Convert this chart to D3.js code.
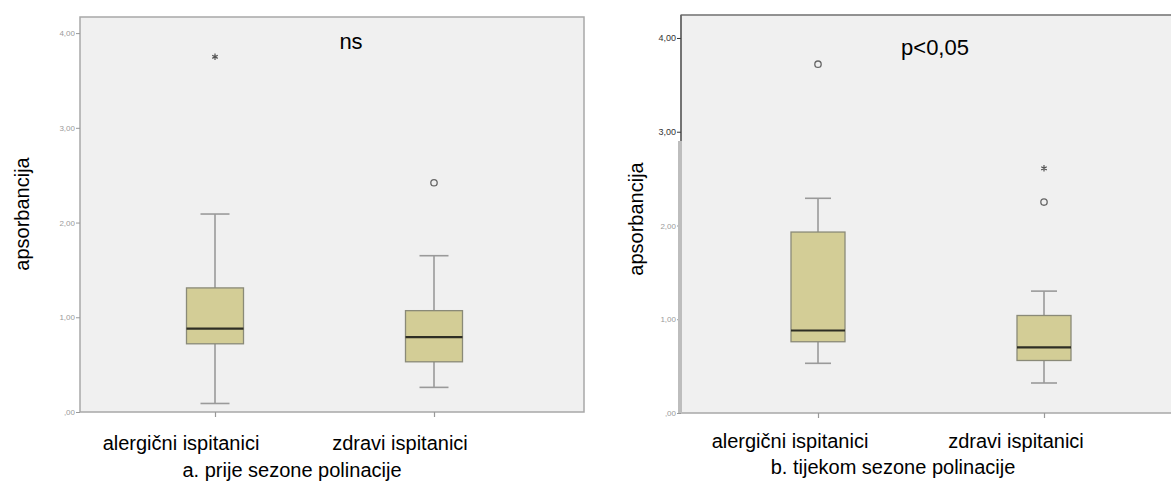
<!DOCTYPE html>
<html>
<head>
<meta charset="utf-8">
<script src="https://cdn.jsdelivr.net/npm/d3@7/dist/d3.min.js"></script>
<style>
  html, body { margin: 0; padding: 0; background: #ffffff; }
  svg { display: block; font-family: "Liberation Sans", Arial, sans-serif; }
</style>
</head>
<body>
<svg id="chart" width="1171" height="482"></svg>
<script>
// ---- data ----
const categories = ["alergični ispitanici", "zdravi ispitanici"];
const panelTitles = ["a. prije sezone polinacije", "b. tijekom sezone polinacije"];
const statLabels = ["ns", "p<0,05"];
const yTicks = [0, 1, 2, 3, 4];
const yTickLabels = [",00", "1,00", "2,00", "3,00", "4,00"];
const yAxisTitle = "apsorbancija";

// panel a: before pollen season
const aWhiskerLow  = [0.09, 0.26];
const aQ1          = [0.72, 0.53];
const aMedian      = [0.88, 0.79];
const aQ3          = [1.31, 1.07];
const aWhiskerHigh = [2.09, 1.65];
const aOutliers    = [[], [2.42]];
const aExtremes    = [[3.75], []];

// panel b: during pollen season
const bWhiskerLow  = [0.53, 0.32];
const bQ1          = [0.76, 0.56];
const bMedian      = [0.88, 0.70];
const bQ3          = [1.93, 1.04];
const bWhiskerHigh = [2.29, 1.30];
const bOutliers    = [[3.72], [2.25]];
const bExtremes    = [[], [2.61]];

function buildStats(lo, q1, med, q3, hi, outl, extr) {
  return categories.map((c, i) => ({
    cat: c, lo: lo[i], q1: q1[i], med: med[i], q3: q3[i], hi: hi[i],
    outliers: outl[i], extremes: extr[i]
  }));
}

const panels = [
  {
    title: panelTitles[0], stat: statLabels[0],
    stats: buildStats(aWhiskerLow, aQ1, aMedian, aQ3, aWhiskerHigh, aOutliers, aExtremes),
    frame: { x0: 80, x1: 584, y0: 17, y1: 412 },
    yMax: 4.17, xRange: [215, 434], boxW: 57, capW: 29,
    labelShift: -34, labelY: 450, titleX: 292, titleY: 477,
    statX: 351, statY: 49, yTitleX: 22, yTitleY: 214,
    tickLblX: 74, darkTicks: []
  },
  {
    title: panelTitles[1], stat: statLabels[1],
    stats: buildStats(bWhiskerLow, bQ1, bMedian, bQ3, bWhiskerHigh, bOutliers, bExtremes),
    frame: { x0: 681, x1: 1180, y0: 15, y1: 413 },
    yMax: 4.245, xRange: [818, 1044], boxW: 54, capW: 26,
    labelShift: -28, labelY: 448, titleX: 893, titleY: 474,
    statX: 935, statY: 55, yTitleX: 636, yTitleY: 219,
    tickLblX: 676, darkTicks: [3, 4]
  }
];

const svg = d3.select("#chart");

panels.forEach((p, pi) => {
  const g = svg.append("g");
  const f = p.frame;
  const y = d3.scaleLinear().domain([0, p.yMax]).range([f.y1, f.y0]);
  const x = d3.scalePoint().domain(categories).range(p.xRange);

  // plot area background
  g.append("rect")
    .attr("x", f.x0).attr("y", f.y0)
    .attr("width", f.x1 - f.x0).attr("height", f.y1 - f.y0)
    .attr("fill", "#f0f0f0")
    .attr("stroke", "#a8a8a8").attr("stroke-width", 1.5);

  // y axis
  const yAxis = d3.axisLeft(y).tickValues(yTicks)
    .tickFormat((d, i) => yTickLabels[i]).tickSize(4).tickPadding(1);
  const ya = g.append("g").attr("transform", `translate(${f.x0},0)`).call(yAxis);
  ya.select(".domain").remove();
  ya.selectAll(".tick line").attr("stroke", d => p.darkTicks.includes(d) ? "#333" : "#999");
  ya.selectAll(".tick text")
    .attr("font-family", "Liberation Sans, Arial, sans-serif")
    .attr("font-size", d => p.darkTicks.includes(d) ? 9 : 8)
    .attr("fill", d => p.darkTicks.includes(d) ? "#333" : "#9a9a9a");

  if (pi === 1) {
    // composite look of the right panel's y axis: dark upper part, thick grey lower part
    g.append("line").attr("x1", f.x0).attr("x2", f.x0)
      .attr("y1", f.y0).attr("y2", y(2.9)).attr("stroke", "#444").attr("stroke-width", 1.2);
    g.append("line").attr("x1", f.x0 - 1).attr("x2", f.x0 - 1)
      .attr("y1", y(2.9)).attr("y2", f.y1).attr("stroke", "#bdbdbd").attr("stroke-width", 4);
    g.append("line").attr("x1", f.x0).attr("x2", f.x1)
      .attr("y1", f.y0).attr("y2", f.y0).attr("stroke", "#666").attr("stroke-width", 1);
  }

  // x axis ticks
  const xAxis = d3.axisBottom(x).tickSize(5).tickFormat("");
  const xa = g.append("g").attr("transform", `translate(0,${f.y1})`).call(xAxis);
  xa.select(".domain").remove();
  xa.selectAll(".tick line").attr("stroke", "#999").attr("stroke-width", 1.2);

  // category labels
  g.selectAll(".catlbl").data(categories).enter().append("text")
    .attr("x", d => x(d) + p.labelShift).attr("y", p.labelY)
    .attr("text-anchor", "middle").attr("font-size", 20).attr("fill", "#000")
    .text(d => d);

  // panel title
  g.append("text").attr("x", p.titleX).attr("y", p.titleY)
    .attr("text-anchor", "middle").attr("font-size", 20).attr("fill", "#000")
    .text(p.title);

  // stat label
  g.append("text").attr("x", p.statX).attr("y", p.statY)
    .attr("text-anchor", "middle").attr("font-size", 22).attr("fill", "#000")
    .text(p.stat);

  // y axis title
  g.append("text")
    .attr("transform", `translate(${p.yTitleX},${p.yTitleY}) rotate(-90)`)
    .attr("text-anchor", "middle").attr("dominant-baseline", "central")
    .attr("font-size", 20).attr("fill", "#000")
    .text(yAxisTitle);

  // boxes
  const bx = g.selectAll(".box").data(p.stats).enter().append("g");
  // whiskers
  bx.append("line").attr("x1", d => x(d.cat)).attr("x2", d => x(d.cat))
    .attr("y1", d => y(d.hi)).attr("y2", d => y(d.q3))
    .attr("stroke", "#9a9a9a").attr("stroke-width", 1.6);
  bx.append("line").attr("x1", d => x(d.cat)).attr("x2", d => x(d.cat))
    .attr("y1", d => y(d.q1)).attr("y2", d => y(d.lo))
    .attr("stroke", "#9a9a9a").attr("stroke-width", 1.6);
  bx.append("line").attr("x1", d => x(d.cat) - p.capW / 2).attr("x2", d => x(d.cat) + p.capW / 2)
    .attr("y1", d => y(d.hi)).attr("y2", d => y(d.hi))
    .attr("stroke", "#9a9a9a").attr("stroke-width", 1.6);
  bx.append("line").attr("x1", d => x(d.cat) - p.capW / 2).attr("x2", d => x(d.cat) + p.capW / 2)
    .attr("y1", d => y(d.lo)).attr("y2", d => y(d.lo))
    .attr("stroke", "#9a9a9a").attr("stroke-width", 1.6);
  // box
  bx.append("rect")
    .attr("x", d => x(d.cat) - p.boxW / 2).attr("width", p.boxW)
    .attr("y", d => y(d.q3)).attr("height", d => y(d.q1) - y(d.q3))
    .attr("fill", "#d3cd96").attr("stroke", "#8a8a78").attr("stroke-width", 1.3);
  // median
  bx.append("line").attr("x1", d => x(d.cat) - p.boxW / 2).attr("x2", d => x(d.cat) + p.boxW / 2)
    .attr("y1", d => y(d.med)).attr("y2", d => y(d.med))
    .attr("stroke", "#2e2e24").attr("stroke-width", 2.2);

  // outliers (circles)
  p.stats.forEach(d => {
    d.outliers.forEach(v => {
      g.append("circle").attr("cx", x(d.cat)).attr("cy", y(v)).attr("r", 3.2)
        .attr("fill", "none").attr("stroke", "#666").attr("stroke-width", 1.3);
    });
    d.extremes.forEach(v => {
      g.append("path").attr("transform", `translate(${x(d.cat)},${y(v)})`)
        .attr("d", d3.symbol(d3.symbolAsterisk ? d3.symbolAsterisk : d3.symbolCross, 28)())
        .attr("fill", "none").attr("stroke", "#555").attr("stroke-width", 1.2);
    });
  });
});
</script>
</body>
</html>
